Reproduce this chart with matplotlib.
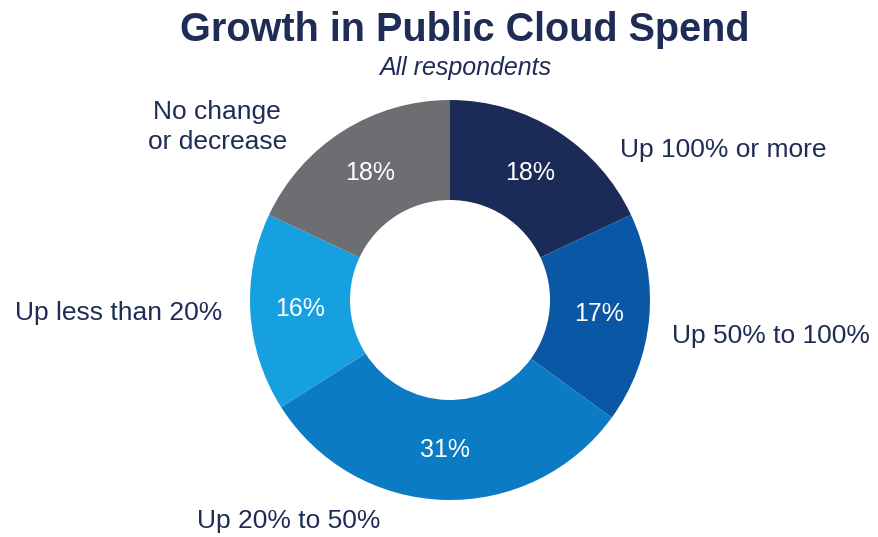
import matplotlib
matplotlib.use("Agg")
import matplotlib.pyplot as plt

categories = ["Up 100% or more", "Up 50% to 100%", "Up 20% to 50%",
              "Up less than 20%", "No change\nor decrease"]
values = [18, 17, 31, 16, 18]
colors = ["#1b2b58", "#0a57a6", "#0b7cc3", "#16a0df", "#6d6e71"]

plt.rcParams['font.family'] = ['Liberation Sans', 'DejaVu Sans']
navy = "#1f2d56"

W, H = 879, 537
fig = plt.figure(figsize=(W / 100, H / 100), dpi=100)
fig.patch.set_facecolor("white")

cx, cy, r = 450, 300, 200
ax = fig.add_axes([(cx - r) / W, (H - cy - r) / H, 2 * r / W, 2 * r / H])
wedges, texts, autotexts = ax.pie(
    values, colors=colors, startangle=90, counterclock=False,
    radius=1.0, wedgeprops=dict(width=0.5, linewidth=0),
    autopct=lambda p: f"{p:.0f}%", pctdistance=0.75,
    textprops=dict(color="white", fontsize=18))
ax.set_xlim(-1, 1)
ax.set_ylim(-1, 1)
ax.set_aspect("equal")
ax.axis("off")

# outer labels (pixel positions from top-left)
label_pos = [(620, 150, "left"), (672, 336, "left"), (289, 521, "center"),
             (222, 313, "right"), (287, 127, "right")]
for cat, (x, y, ha) in zip(categories, label_pos):
    fig.text(x / W, 1 - y / H, cat, ha=ha, va="center", fontsize=19,
             color=navy, linespacing=1.28,
             multialignment="center" if "\n" in cat else None)

fig.text(465 / W, 1 - 30 / H, "Growth in Public Cloud Spend", ha="center",
         va="center", fontsize=28.5, fontweight="bold", color=navy)
fig.text(465 / W, 1 - 68 / H, "All respondents", ha="center", va="center",
         fontsize=18, style="italic", color=navy)

fig.savefig("out.png", dpi=100, facecolor="white")
